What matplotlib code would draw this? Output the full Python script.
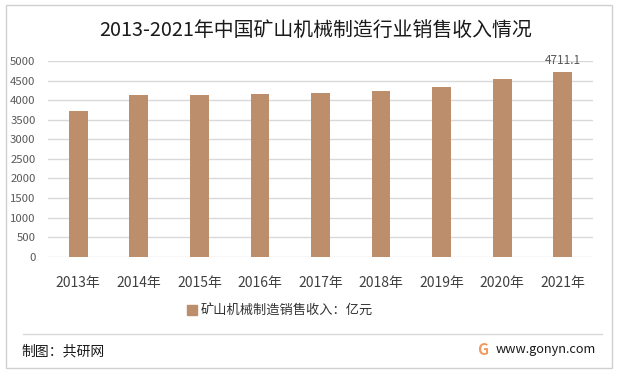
import matplotlib.pyplot as plt
from matplotlib.patches import Rectangle
from matplotlib.lines import Line2D

plt.rcParams['font.family'] = ['Noto Sans CJK SC', 'DejaVu Sans']

# Data
years = ["2013年", "2014年", "2015年", "2016年", "2017年", "2018年", "2019年", "2020年", "2021年"]
revenue = [3723, 4131, 4128, 4157, 4190, 4242, 4336, 4540, 4711.1]
yticks = [0, 500, 1000, 1500, 2000, 2500, 3000, 3500, 4000, 4500, 5000]

TITLE = "2013-2021年中国矿山机械制造行业销售收入情况"
SERIES = "矿山机械制造销售收入：亿元"
BAR_COLOR = "#BC8E6C"
GRID_COLOR = "#D9D9D9"
TICK_COLOR = "#595959"

W, H = 617, 374
fig = plt.figure(figsize=(W / 100, H / 100), dpi=100)
fig.patch.set_facecolor("white")

# outer frame
fig.add_artist(Rectangle((6 / W, 1 - 368 / H), 606 / W, 363 / H,
                         transform=fig.transFigure, fill=False,
                         edgecolor="#D0D0D0", linewidth=1.0))

ax = fig.add_axes([48 / W, 1 - 256.7 / H, 545 / W, 195.7 / H])
x = list(range(len(years)))
ax.bar(x, revenue, width=0.31, color=BAR_COLOR, zorder=2)
ax.set_xlim(-0.5, len(years) - 0.5)
ax.set_ylim(0, 5000)
ax.set_yticks(yticks)
ax.set_yticklabels([str(t) for t in yticks], fontsize=8.2, color=TICK_COLOR)
ax.set_xticks(x)
ax.set_xticklabels(years, fontsize=10, color="#404040")
ax.tick_params(axis="both", length=0)
ax.tick_params(axis="y", pad=9)
ax.tick_params(axis="x", pad=14)
ax.grid(axis="y", color=GRID_COLOR, linewidth=1.0, zorder=0)
for s in ax.spines.values():
    s.set_visible(False)

# label on the last bar only
ax.text(x[-1], revenue[-1] + 130, f"{revenue[-1]:.1f}", ha="center", va="bottom",
        fontsize=8.5, color=TICK_COLOR)

fig.text(315.5 / W, 1 - 30 / H, TITLE, ha="center", va="center",
         fontsize=14.3, color="#1a1a1a")

# legend
leg = fig.legend([Rectangle((0, 0), 1, 1, color=BAR_COLOR)], [SERIES],
                 loc="center", bbox_to_anchor=(280 / W, 1 - 311 / H),
                 frameon=False, fontsize=9.5, handlelength=0.7, handleheight=0.7,
                 handletextpad=0.3)
for t in leg.get_texts():
    t.set_color("#333333")

# separator and footer
fig.add_artist(Line2D([23 / W, 602 / W], [1 - 333.7 / H] * 2,
                      transform=fig.transFigure, color="#D9D9D9", linewidth=1.0))
fig.text(21 / W, 1 - 351 / H, "制图：共研网", ha="left", va="center",
         fontsize=10, color="#1a1a1a")
fig.text(483 / W, 1 - 350 / H, "G", ha="center", va="center",
         fontsize=11, fontweight="bold", color="#F29A5E")
fig.text(496 / W, 1 - 350 / H, "www.gonyn.com", ha="left", va="center",
         fontsize=9.2, color="#1a1a1a")

fig.savefig("out.png", dpi=100, facecolor="white")
